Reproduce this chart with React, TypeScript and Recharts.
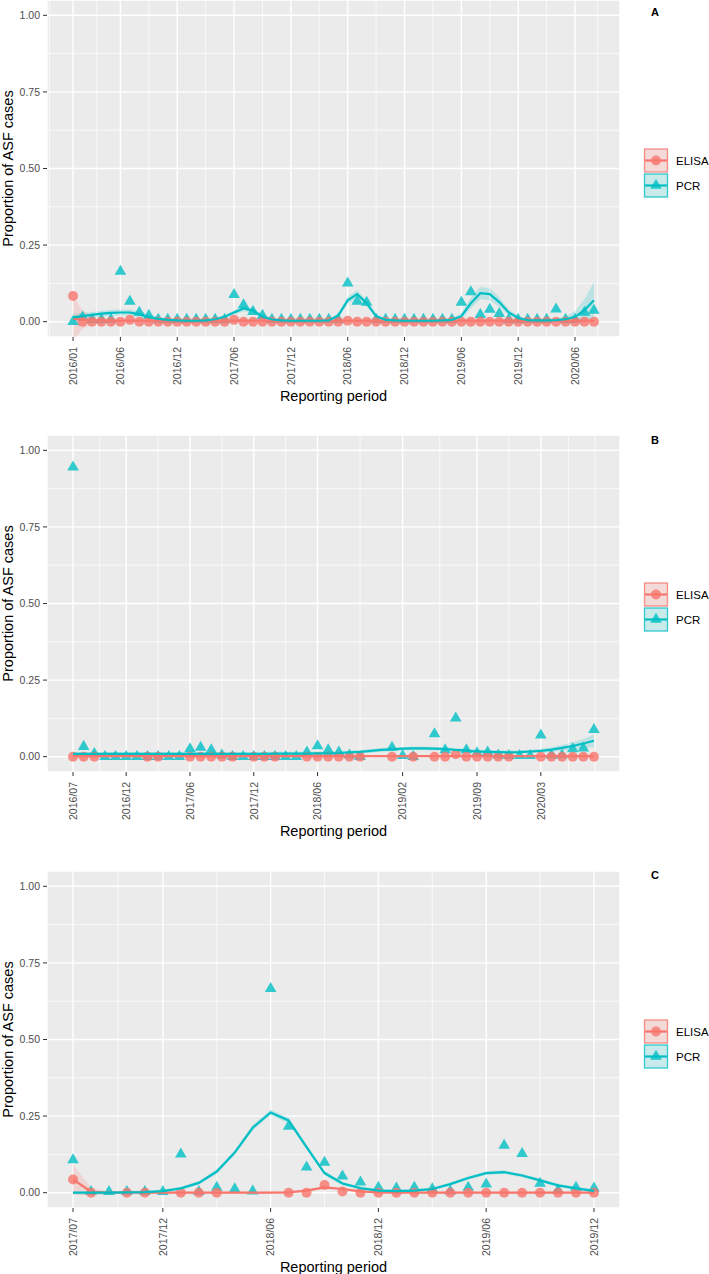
import React from 'react';
import { ComposedChart, XAxis, YAxis, CartesianGrid, ReferenceLine, Scatter, Line, Area } from 'recharts';

const ELISA_COLOR = '#F8766D';
const PCR_COLOR = '#00BFC4';
const FONT = '"Liberation Sans", Arial, Helvetica, sans-serif';

// month labels "YYYY/MM" for a run of consecutive reporting periods
const periods = (year: number, month: number, count: number) =>
  Array.from({ length: count }, (_, i) => {
    const t = year * 12 + (month - 1) + i;
    return `${Math.floor(t / 12)}/${String((t % 12) + 1).padStart(2, '0')}`;
  });

// ---------- panel A: 2016/01 - 2020/08 ----------
const aPeriods = periods(2016, 1, 56);
const aTicks = ['2016/01', '2016/06', '2016/12', '2017/06', '2017/12', '2018/06', '2018/12', '2019/06', '2019/12', '2020/06'];
const aMinor = [-2.5, 2.5, 8, 14, 20, 26, 32, 38, 44, 50, 55.4];
const aElisa = [
  0.084, 0, 0, 0, 0, 0, 0.006, 0, 0, 0, 0, 0,
  0, 0, 0, 0, 0, 0.006, 0, 0, 0, 0, 0, 0,
  0, 0, 0, 0, 0, 0.003, 0, 0, 0, 0, 0, 0,
  0, 0, 0, 0, 0, 0, 0, 0, 0, 0, 0, 0,
  0, 0, 0, 0, 0, 0, 0, 0,
];
const aPcr = [
  0, 0.015, 0.007, 0.007, 0.007, 0.164, 0.066, 0.03, 0.02, 0.007, 0.007, 0.007,
  0.007, 0.007, 0.007, 0.007, 0.007, 0.088, 0.055, 0.033, 0.02, 0.007, 0.007, 0.007,
  0.007, 0.007, 0.007, 0.007, 0.007, 0.126, 0.066, 0.063, 0.007, 0.007, 0.007, 0.007,
  0.007, 0.007, 0.007, 0.007, 0.007, 0.063, 0.097, 0.023, 0.04, 0.026, 0.007, 0.007,
  0.007, 0.007, 0.007, 0.041, 0.007, 0.007, 0.03, 0.037,
];
const aElisaFit = [
  0.01, 0.007, 0.005, 0.004, 0.003, 0.003, 0.003, 0.003, 0.003, 0.003, 0.003, 0.003,
  0.003, 0.003, 0.003, 0.003, 0.003, 0.003, 0.003, 0.003, 0.003, 0.003, 0.003, 0.003,
  0.003, 0.003, 0.003, 0.003, 0.003, 0.003, 0.003, 0.003, 0.003, 0.003, 0.003, 0.003,
  0.003, 0.003, 0.003, 0.003, 0.003, 0.003, 0.003, 0.003, 0.003, 0.003, 0.003, 0.003,
  0.003, 0.003, 0.003, 0.003, 0.003, 0.003, 0.003, 0.003,
];
const aElisaSe = [
  0.075, 0.03, 0.014, 0.007, 0.004, 0.004, 0.004, 0.004, 0.004, 0.004, 0.004, 0.004,
  0.004, 0.004, 0.004, 0.004, 0.004, 0.004, 0.004, 0.004, 0.004, 0.004, 0.004, 0.004,
  0.004, 0.004, 0.004, 0.004, 0.004, 0.004, 0.004, 0.004, 0.004, 0.004, 0.004, 0.004,
  0.004, 0.004, 0.004, 0.004, 0.004, 0.004, 0.004, 0.004, 0.004, 0.004, 0.004, 0.004,
  0.004, 0.004, 0.004, 0.004, 0.004, 0.004, 0.004, 0.004,
];
const aPcrFit = [
  0.014, 0.018, 0.022, 0.026, 0.029, 0.03, 0.03, 0.024, 0.015, 0.009, 0.006, 0.004,
  0.003, 0.003, 0.004, 0.008, 0.016, 0.03, 0.043, 0.036, 0.017, 0.007, 0.004, 0.003,
  0.003, 0.003, 0.003, 0.004, 0.02, 0.07, 0.09, 0.06, 0.018, 0.006, 0.004, 0.003,
  0.003, 0.003, 0.003, 0.004, 0.006, 0.018, 0.06, 0.093, 0.09, 0.064, 0.03, 0.012,
  0.005, 0.004, 0.004, 0.005, 0.008, 0.016, 0.038, 0.07,
];
const aPcrSe = [
  0.012, 0.011, 0.01, 0.01, 0.01, 0.01, 0.01, 0.01, 0.009, 0.007, 0.006, 0.005,
  0.005, 0.005, 0.005, 0.005, 0.006, 0.008, 0.009, 0.008, 0.007, 0.005, 0.005, 0.005,
  0.005, 0.005, 0.005, 0.005, 0.008, 0.012, 0.013, 0.011, 0.007, 0.005, 0.005, 0.005,
  0.005, 0.005, 0.005, 0.005, 0.006, 0.01, 0.017, 0.02, 0.02, 0.016, 0.01, 0.006,
  0.005, 0.005, 0.005, 0.006, 0.01, 0.018, 0.035, 0.06,
];

// ---------- panel B: 2016/07 - 2020/08 ----------
const bPeriods = periods(2016, 7, 50);
const bTicks = ['2016/07', '2016/12', '2017/06', '2017/12', '2018/06', '2019/02', '2019/09', '2020/03'];
const bMinor = [2.5, 8, 14, 20, 27, 34.5, 41, 46.6, 49.1];
const bElisa = [
  0, 0, 0, null, null, null, null, 0, 0, null, null, 0,
  0, 0, 0, 0, null, 0, 0, 0, null, null, 0, 0,
  0, 0, 0, 0, null, null, 0, null, 0, null, 0, 0,
  0.008, 0, 0, 0, 0, 0, null, null, 0, 0, 0, 0,
  0, 0,
];
const bPcr = [
  0.945, 0.033, 0.01, 0, 0, 0, 0, 0, 0, 0, 0, 0.025,
  0.03, 0.022, 0.005, 0, 0, 0, 0, 0, 0, 0, 0.015, 0.035,
  0.022, 0.015, 0.005, 0, null, null, 0.03, 0.003, 0, null, 0.074, 0.022,
  0.126, 0.022, 0.012, 0.015, 0.005, 0.003, 0.003, 0.003, 0.07, 0.005, 0.005, 0.025,
  0.028, 0.088,
];
const bElisaFit = [
  0.002, 0.002, 0.002, 0.002, 0.002, 0.002, 0.002, 0.002, 0.002, 0.002, 0.002, 0.002,
  0.002, 0.002, 0.002, 0.002, 0.002, 0.002, 0.002, 0.002, 0.002, 0.002, 0.002, 0.002,
  0.002, 0.002, 0.002, 0.002, 0.002, 0.002, 0.002, 0.002, 0.002, 0.002, 0.002, 0.002,
  0.002, 0.002, 0.002, 0.002, 0.002, 0.002, 0.002, 0.002, 0.002, 0.002, 0.002, 0.002,
  0.002, 0.002,
];
const bElisaSe = [
  0.003, 0.003, 0.003, 0.003, 0.003, 0.003, 0.003, 0.003, 0.003, 0.003, 0.003, 0.003,
  0.003, 0.003, 0.003, 0.003, 0.003, 0.003, 0.003, 0.003, 0.003, 0.003, 0.003, 0.003,
  0.003, 0.003, 0.003, 0.003, 0.003, 0.003, 0.003, 0.003, 0.003, 0.003, 0.003, 0.003,
  0.003, 0.003, 0.003, 0.003, 0.003, 0.003, 0.003, 0.003, 0.003, 0.003, 0.003, 0.003,
  0.003, 0.003,
];
const bPcrFit = [
  0.009, 0.009, 0.009, 0.009, 0.009, 0.009, 0.009, 0.009, 0.009, 0.009, 0.009, 0.009,
  0.009, 0.009, 0.009, 0.009, 0.009, 0.009, 0.009, 0.01, 0.01, 0.01, 0.01, 0.011,
  0.011, 0.012, 0.014, 0.016, 0.019, 0.022, 0.024, 0.026, 0.027, 0.027, 0.026, 0.025,
  0.022, 0.02, 0.017, 0.016, 0.015, 0.014, 0.015, 0.017, 0.019, 0.023, 0.029, 0.035,
  0.043, 0.052,
];
const bPcrSe = [
  0.006, 0.006, 0.006, 0.006, 0.006, 0.006, 0.006, 0.006, 0.006, 0.006, 0.006, 0.006,
  0.006, 0.006, 0.006, 0.006, 0.006, 0.006, 0.006, 0.006, 0.006, 0.006, 0.006, 0.006,
  0.006, 0.006, 0.006, 0.006, 0.006, 0.006, 0.006, 0.006, 0.006, 0.006, 0.006, 0.006,
  0.006, 0.006, 0.006, 0.006, 0.006, 0.006, 0.006, 0.006, 0.007, 0.008, 0.01, 0.012,
  0.015, 0.02,
];

// ---------- panel C: 2017/07 - 2019/12 ----------
const cPeriods = periods(2017, 7, 30);
const cTicks = ['2017/07', '2017/12', '2018/06', '2018/12', '2019/06', '2019/12'];
const cMinor = [2.5, 8, 14, 20, 26];
const cElisa = [
  0.043, 0, null, 0, 0, null, 0, 0, 0, null, null, null,
  0, 0, 0.025, 0.004, 0, 0, 0, 0, 0, 0, 0, 0,
  0, 0, 0, 0, 0, 0,
];
const cPcr = [
  0.107, 0.003, 0.003, 0.003, 0.003, 0.003, 0.126, 0.003, 0.017, 0.012, 0.005, 0.666,
  0.216, 0.083, 0.099, 0.054, 0.034, 0.017, 0.015, 0.017, 0.012, 0.005, 0.017, 0.028,
  0.154, 0.127, 0.03, 0.008, 0.017, 0.015,
];
const cElisaFit = [
  0.043, 0.003, 0, 0, 0, 0, 0, 0, 0, 0, 0, 0,
  0.001, 0.007, 0.017, 0.012, 0.004, 0.001, 0, 0, 0, 0, 0, 0,
  0, 0, 0, 0, 0, 0,
];
const cElisaSe = [
  0.05, 0.012, 0.004, 0.004, 0.004, 0.004, 0.004, 0.004, 0.004, 0.004, 0.004, 0.004,
  0.004, 0.004, 0.005, 0.005, 0.004, 0.004, 0.004, 0.004, 0.004, 0.004, 0.004, 0.004,
  0.004, 0.004, 0.004, 0.004, 0.004, 0.004,
];
const cPcrFit = [
  0, 0, 0, 0.001, 0.002, 0.005, 0.014, 0.032, 0.069, 0.131, 0.212, 0.262,
  0.236, 0.149, 0.064, 0.03, 0.015, 0.007, 0.005, 0.007, 0.012, 0.028, 0.048, 0.064,
  0.067, 0.056, 0.04, 0.024, 0.014, 0.006,
];
const cPcrSe = [
  0.005, 0.005, 0.005, 0.005, 0.005, 0.005, 0.005, 0.006, 0.007, 0.008, 0.009, 0.009,
  0.009, 0.008, 0.007, 0.006, 0.005, 0.005, 0.005, 0.005, 0.005, 0.005, 0.006, 0.006,
  0.006, 0.006, 0.006, 0.005, 0.005, 0.005,
];

const yTicks = [0, 0.25, 0.5, 0.75, 1];
const yMinor = [0.125, 0.375, 0.625, 0.875];

const buildRows = (
  elisa: (number | null)[], pcr: (number | null)[],
  elisaFit: number[], pcrFit: number[], elisaSe: number[], pcrSe: number[],
) =>
  pcr.map((p, i) => ({
    m: i,
    elisa: elisa[i],
    pcr: p,
    elisaFit: elisaFit[i],
    pcrFit: pcrFit[i],
    elisaBand: [elisaFit[i] - elisaSe[i], elisaFit[i] + elisaSe[i]],
    pcrBand: [pcrFit[i] - pcrSe[i], pcrFit[i] + pcrSe[i]],
  }));

const Dot = (props: any) => {
  const { cx, cy } = props;
  if (cx == null || cy == null) return null;
  return <circle cx={cx} cy={cy} r={5} fill={ELISA_COLOR} fillOpacity={0.8} />;
};

const Tri = (props: any) => {
  const { cx, cy } = props;
  if (cx == null || cy == null) return null;
  return (
    <polygon
      points={`${cx},${cy - 6.7} ${cx + 5.8},${cy + 3.35} ${cx - 5.8},${cy + 3.35}`}
      fill={PCR_COLOR}
      fillOpacity={0.8}
    />
  );
};

const XTick = (props: any) => {
  const { x, y, payload, labels } = props;
  return (
    <g transform={`translate(${x},${y})`}>
      <text transform="rotate(-90)" textAnchor="end" dy="0.36em" fill="#4D4D4D" fontSize={10.5}>
        {labels[payload.value]}
      </text>
    </g>
  );
};

const legendKeys = [
  { name: 'ELISA', color: ELISA_COLOR, fill: '#F3D9D7' },
  { name: 'PCR', color: PCR_COLOR, fill: '#C9EAEB' },
];

const PanelLegend = ({ top, tag, tagY }: { top: number; tag: string; tagY: number }) => (
  <>
    <svg style={{ position: 'absolute', left: 640, top: tagY - 10 }} width={30} height={20}>
      <text x={15} y={10} dy="0.36em" textAnchor="middle" fontWeight={700} fontSize={11} fill="#000">{tag}</text>
    </svg>
    <svg style={{ position: 'absolute', left: 640, top }} width={69} height={52}>
      {legendKeys.map((k, i) => {
        const cy = 12.5 + i * 25;
        return (
          <g key={k.name}>
            <rect x={4.5} y={cy - 11.5} width={23} height={23} fill={k.fill} stroke={k.color} strokeOpacity={0.8} strokeWidth={1.3} />
            <line x1={5} x2={27} y1={cy} y2={cy} stroke={k.color} strokeWidth={2.2} />
            {i === 0 ? <Dot cx={16} cy={cy} /> : <Tri cx={16} cy={cy} />}
            <text x={36} y={cy} dy="0.36em" fontSize={11.5} fill="#000">{k.name}</text>
          </g>
        );
      })}
    </svg>
  </>
);

type PanelProps = {
  top: number;
  labels: string[];
  tickLabels: string[];
  minor: number[];
  rows: any[];
};

const Panel = ({ top, labels, tickLabels, minor, rows }: PanelProps) => {
  const n = labels.length;
  const pad = (n - 1) * 0.05;
  const tickIdx = tickLabels.map((t) => labels.indexOf(t));
  const elisaPts = rows.filter((r) => r.elisa !== null);
  const pcrPts = rows.filter((r) => r.pcr !== null);
  return (
    <div style={{ position: 'absolute', left: 0, top, width: 709, height: 410 }}>
      <ComposedChart width={709} height={410} data={rows} margin={{ top: 0, right: 89, bottom: 0, left: 0 }}>
        <CartesianGrid fill="#EBEBEB" fillOpacity={1} stroke="#FFFFFF" strokeWidth={1.4} />
        {yMinor.map((v) => (
          <ReferenceLine key={`h${v}`} y={v} stroke="#FFFFFF" strokeWidth={0.7} />
        ))}
        {minor.map((v) => (
          <ReferenceLine key={`v${v}`} x={v} stroke="#FFFFFF" strokeWidth={0.7} />
        ))}
        <XAxis
          type="number"
          dataKey="m"
          domain={[-pad, n - 1 + pad]}
          ticks={tickIdx}
          interval={0}
          allowDataOverflow
          axisLine={false}
          tickLine={{ stroke: '#333333' }}
          tickSize={4}
          tickMargin={6}
          height={73}
          tick={<XTick labels={labels} />}
          label={{ value: 'Reporting period', position: 'insideBottom', offset: 9, fill: '#000', fontSize: 14.5 }}
        />
        <YAxis
          type="number"
          domain={[-0.05, 1.05]}
          ticks={yTicks}
          interval={0}
          allowDataOverflow
          width={47}
          axisLine={false}
          tickLine={{ stroke: '#333333' }}
          tickSize={4}
          tickMargin={3}
          tick={{ fill: '#4D4D4D', fontSize: 10.5 }}
          tickFormatter={(v: number) => v.toFixed(2)}
          label={{ value: 'Proportion of ASF cases', angle: -90, position: 'insideLeft', offset: 8, textAnchor: 'middle', fill: '#000', fontSize: 14.5 }}
        />
        <Area type="linear" dataKey="pcrBand" stroke="none" fill={PCR_COLOR} fillOpacity={0.2} isAnimationActive={false} />
        <Area type="linear" dataKey="elisaBand" stroke="none" fill={ELISA_COLOR} fillOpacity={0.2} isAnimationActive={false} />
        <Scatter data={pcrPts} dataKey="pcr" shape={<Tri />} isAnimationActive={false} />
        <Scatter data={elisaPts} dataKey="elisa" shape={<Dot />} isAnimationActive={false} />
        <Line type="linear" dataKey="elisaFit" stroke={ELISA_COLOR} strokeWidth={2.2} dot={false} activeDot={false} isAnimationActive={false} zIndex={700} />
        <Line type="linear" dataKey="pcrFit" stroke={PCR_COLOR} strokeWidth={2.2} dot={false} activeDot={false} isAnimationActive={false} zIndex={701} />
      </ComposedChart>
    </div>
  );
};

const aRows = buildRows(aElisa, aPcr, aElisaFit, aPcrFit, aElisaSe, aPcrSe);
const bRows = buildRows(bElisa, bPcr, bElisaFit, bPcrFit, bElisaSe, bPcrSe);
const cRows = buildRows(cElisa, cPcr, cElisaFit, cPcrFit, cElisaSe, cPcrSe);

export default function App() {
  return (
    <div style={{ position: 'absolute', left: 0, top: 0, width: 709, height: 1274, background: '#FFFFFF', fontFamily: FONT }}>
      <Panel top={0} labels={aPeriods} tickLabels={aTicks} minor={aMinor} rows={aRows} />
      <PanelLegend top={147.5} tag="A" tagY={12} />
      <Panel top={435} labels={bPeriods} tickLabels={bTicks} minor={bMinor} rows={bRows} />
      <PanelLegend top={582} tag="B" tagY={440} />
      <Panel top={871} labels={cPeriods} tickLabels={cTicks} minor={cMinor} rows={cRows} />
      <PanelLegend top={1019} tag="C" tagY={875} />
    </div>
  );
}
